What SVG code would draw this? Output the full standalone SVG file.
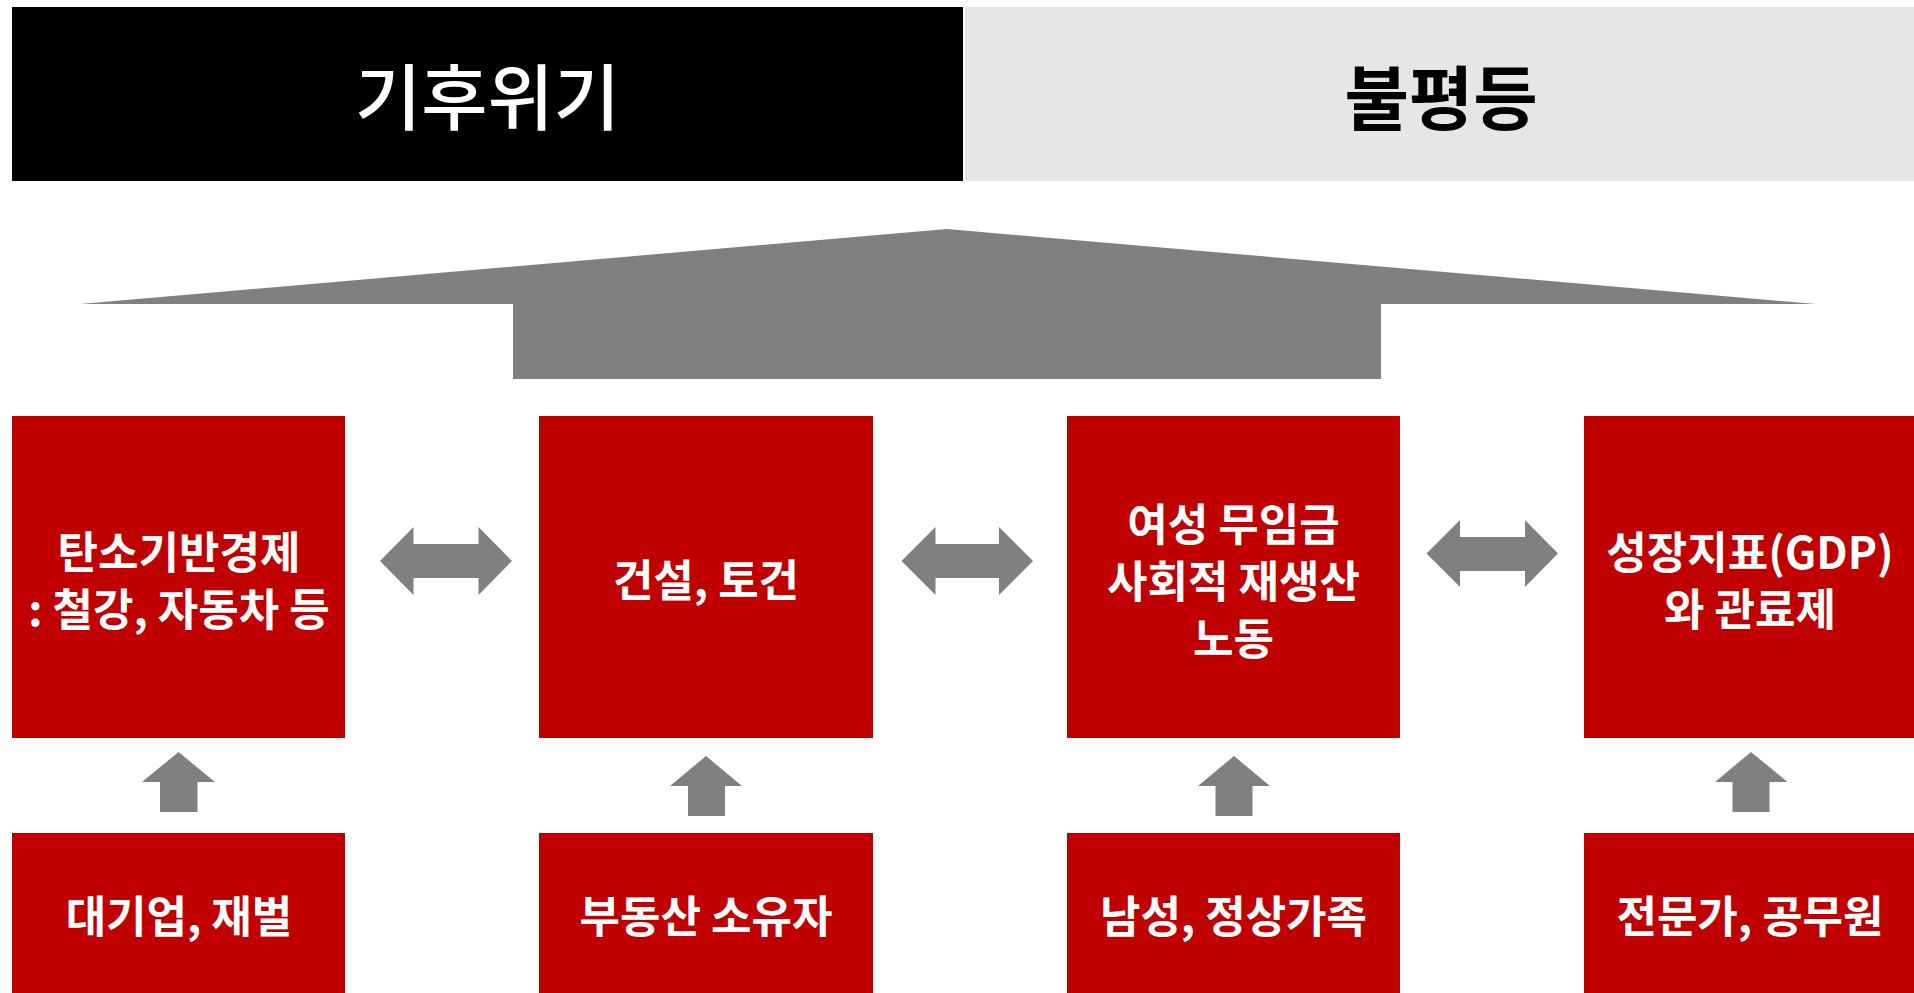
<svg xmlns="http://www.w3.org/2000/svg" width="1914" height="993" viewBox="0 0 1914 993">
<style>
.t{font-family:"Noto Sans CJK KR","Noto Sans",sans-serif;text-anchor:middle}
.bx{fill:#C00000}
.bt{fill:#FFFFFF;font-size:44px;font-weight:700}
.ar{fill:#808080}
</style>
<rect width="1914" height="993" fill="#FFFFFF"/>
<g id="climate">
<rect x="12" y="7" width="951" height="174" fill="#000000"/>
<text class="t" x="487.5" y="124" font-size="72" font-weight="500" fill="#FFFFFF">기후위기</text>
</g>
<g id="inequality">
<rect x="965" y="7" width="949" height="174" fill="#E6E6E6"/>
<text class="t" x="1441" y="125" font-size="70" font-weight="700" fill="#000000">불평등</text>
</g>
<g id="connectors">
<polygon class="ar" points="947,229 1816,304 1381,304 1381,379 513,379 513,304 80,304"/>
<polygon class="ar" points="380,561 413.5,527 413.5,544 478.5,544 478.5,527 512,561 478.5,595 478.5,578 413.5,578 413.5,595"/>
<polygon class="ar" points="901.5,561 935.5,527 935.5,544 999,544 999,527 1033,561 999,595 999,578 935.5,578 935.5,595"/>
<polygon class="ar" points="1426.5,553.5 1460,520 1460,537 1525,537 1525,520 1558,553.5 1525,587 1525,571 1460,571 1460,587"/>
<polygon class="ar" points="178.5,752 215,782 197.5,782 197.5,812 160,812 160,782 142,782"/>
<polygon class="ar" points="706,756 742,786 725,786 725,816 688,816 688,786 670,786"/>
<polygon class="ar" points="1234,756 1270,786 1252.5,786 1252.5,816 1215.5,816 1215.5,786 1198,786"/>
<polygon class="ar" points="1751,752 1787.5,782 1769.5,782 1769.5,812 1732.5,812 1732.5,782 1715,782"/>
</g>
<g id="carbon-economy">
<rect class="bx" x="12" y="416" width="333" height="322"/>
<text class="t bt" x="179" y="569">탄소기반경제</text>
<text class="t bt" x="179" y="626">: 철강, 자동차 등</text>
</g>
<g id="construction">
<rect class="bx" x="539" y="416" width="334" height="322"/>
<text class="t bt" x="706" y="597">건설, 토건</text>
</g>
<g id="unpaid-labor">
<rect class="bx" x="1067" y="416" width="333" height="322"/>
<text class="t bt" x="1233.5" y="541">여성 무임금</text>
<text class="t bt" x="1233.5" y="598">사회적 재생산</text>
<text class="t bt" x="1233.5" y="655">노동</text>
</g>
<g id="gdp">
<rect class="bx" x="1584" y="416" width="333" height="322"/>
<text class="t bt" x="1750" y="569">성장지표(GDP)</text>
<text class="t bt" x="1750" y="626">와 관료제</text>
</g>
<g id="chaebol">
<rect class="bx" x="12" y="833" width="333" height="165"/>
<text class="t bt" x="179" y="933">대기업, 재벌</text>
</g>
<g id="landowners">
<rect class="bx" x="539" y="833" width="334" height="165"/>
<text class="t bt" x="706" y="933">부동산 소유자</text>
</g>
<g id="men-family">
<rect class="bx" x="1067" y="833" width="333" height="165"/>
<text class="t bt" x="1233.5" y="933">남성, 정상가족</text>
</g>
<g id="experts">
<rect class="bx" x="1584" y="833" width="333" height="165"/>
<text class="t bt" x="1750" y="933">전문가, 공무원</text>
</g>
</svg>
